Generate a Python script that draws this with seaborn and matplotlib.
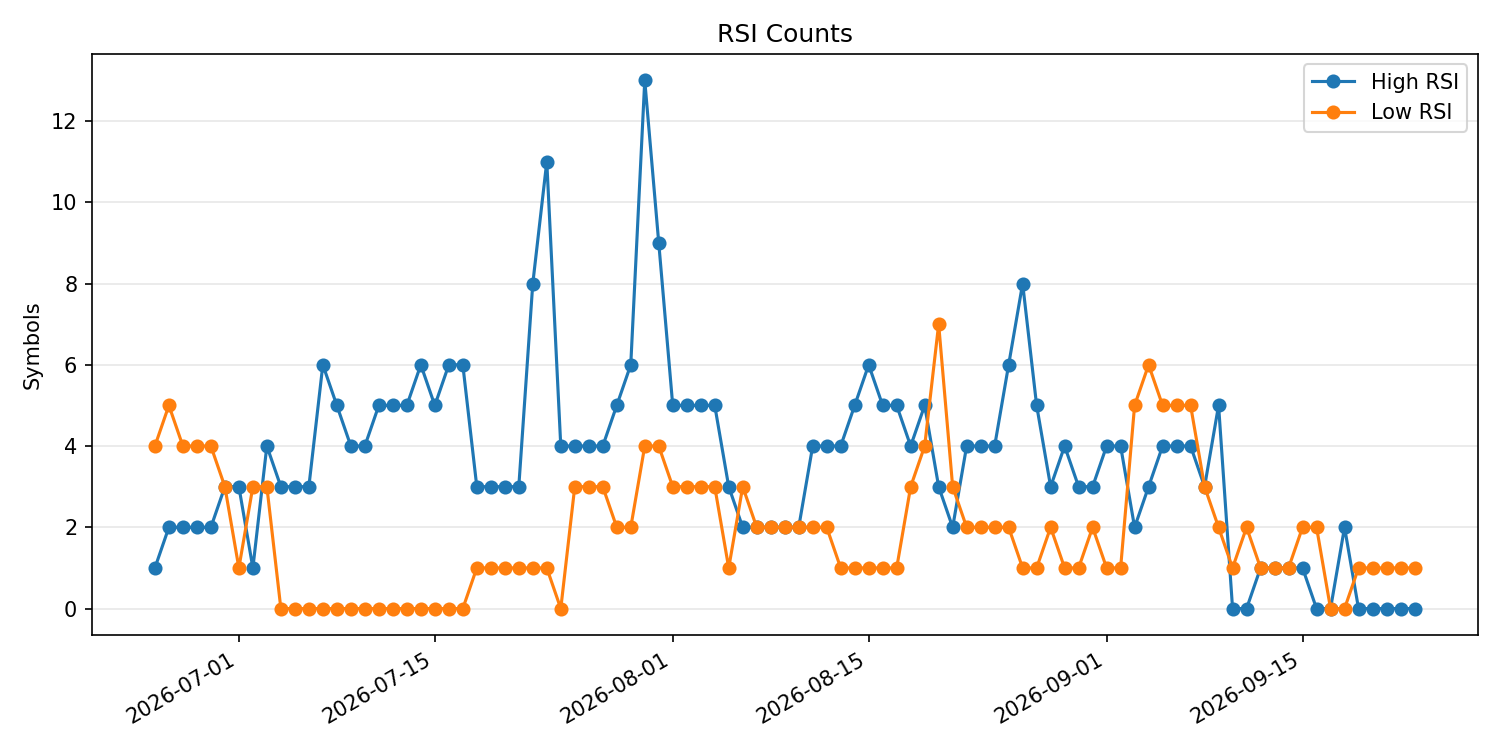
import pandas as pd
import matplotlib
matplotlib.use("Agg")
import matplotlib.pyplot as plt
import seaborn as sns

# daily counts, 2026-06-25 .. 2026-09-23
start_date = "2026-06-25"
high_rsi = [1, 2, 2, 2, 2, 3, 3, 1, 4, 3, 3, 3, 6, 5, 4, 4, 5, 5, 5, 6,
            5, 6, 6, 3, 3, 3, 3, 8, 11, 4, 4, 4, 4, 5, 6, 13, 9, 5, 5, 5,
            5, 3, 2, 2, 2, 2, 2, 4, 4, 4, 5, 6, 5, 5, 4, 5, 3, 2, 4, 4,
            4, 6, 8, 5, 3, 4, 3, 3, 4, 4, 2, 3, 4, 4, 4, 3, 5, 0, 0, 1,
            1, 1, 1, 0, 0, 2, 0, 0, 0, 0, 0]
low_rsi = [4, 5, 4, 4, 4, 3, 1, 3, 3, 0, 0, 0, 0, 0, 0, 0, 0, 0, 0, 0,
           0, 0, 0, 1, 1, 1, 1, 1, 1, 0, 3, 3, 3, 2, 2, 4, 4, 3, 3, 3,
           3, 1, 3, 2, 2, 2, 2, 2, 2, 1, 1, 1, 1, 1, 3, 4, 7, 3, 2, 2,
           2, 2, 1, 1, 2, 1, 1, 2, 1, 1, 5, 6, 5, 5, 5, 3, 2, 1, 2, 1,
           1, 1, 2, 2, 0, 0, 1, 1, 1, 1, 1]

dates = pd.date_range(start_date, periods=len(high_rsi), freq="D")
df = pd.DataFrame({"Date": dates, "high": high_rsi, "low": low_rsi})

fig, ax = plt.subplots(figsize=(10, 5), dpi=150)
sns.lineplot(data=df, x="Date", y="high", ax=ax, color="#1f77b4", marker="o",
             markersize=6, markeredgecolor="#1f77b4", label="High RSI")
sns.lineplot(data=df, x="Date", y="low", ax=ax, color="#ff7f0e", marker="o",
             markersize=6, markeredgecolor="#ff7f0e", label="Low RSI")

ax.set_title("RSI Counts")
ax.set_ylabel("Symbols")
ax.set_xlabel("")
ax.grid(axis="y", alpha=0.3)
ax.legend(loc="upper right")
fig.autofmt_xdate()
plt.tight_layout()
plt.savefig("out.png")
